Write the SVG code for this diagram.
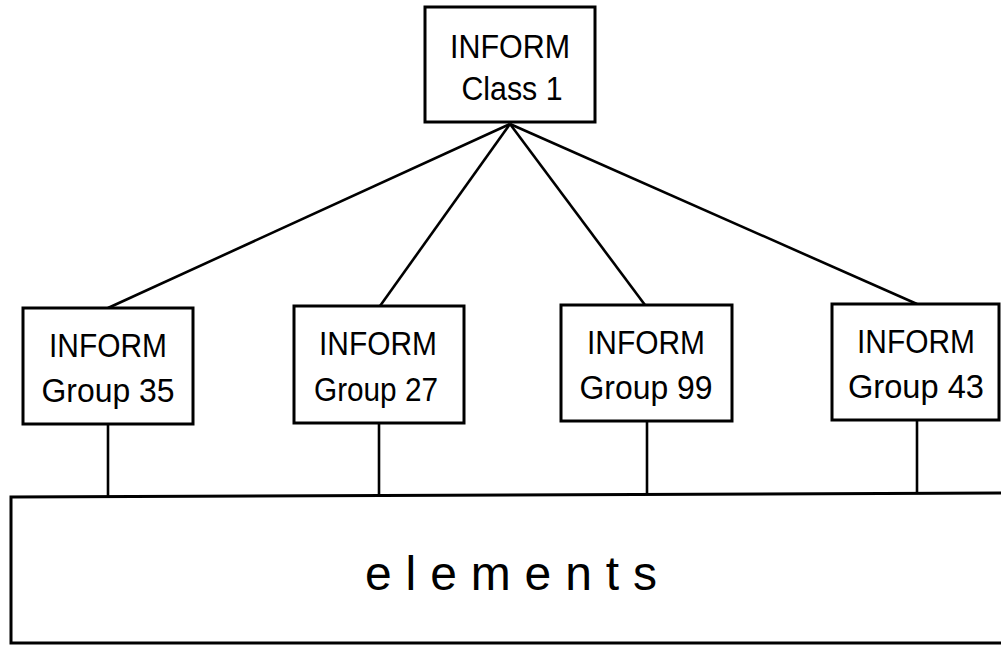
<svg xmlns="http://www.w3.org/2000/svg" width="1001" height="645" viewBox="0 0 1001 645">
<style>
.box{fill:#fff;stroke:#000;stroke-width:3}
.ln{stroke:#000;stroke-width:2.6;fill:none}
.t{font-family:"Liberation Sans",Arial,sans-serif;font-size:33px;fill:#000;text-anchor:middle}
.el{font-family:"Liberation Sans",Arial,sans-serif;font-size:48px;fill:#000}
</style>
<rect width="1001" height="645" fill="#fff"/>
<g id="connectors">
<line class="ln" x1="510" y1="124" x2="108" y2="308"/>
<line class="ln" x1="510" y1="124" x2="380" y2="306"/>
<line class="ln" x1="510" y1="124" x2="645" y2="305"/>
<line class="ln" x1="510" y1="124" x2="917" y2="304"/>
<line class="ln" x1="108" y1="424" x2="108" y2="497"/>
<line class="ln" x1="379" y1="423" x2="379" y2="496"/>
<line class="ln" x1="647" y1="421" x2="647" y2="494"/>
<line class="ln" x1="917" y1="420" x2="917" y2="494"/>
</g>
<g id="elements">
<path class="box" d="M1003,493 L11,497 L11,643 L1003,643"/>
<text class="el" x="365" y="590" textLength="292" lengthAdjust="spacing">elements</text>
</g>
<g id="class1">
<rect class="box" x="425" y="7" width="170" height="115"/>
<text class="t" x="510" y="58" textLength="120" lengthAdjust="spacingAndGlyphs">INFORM</text>
<text class="t" x="512" y="100" textLength="101" lengthAdjust="spacingAndGlyphs">Class 1</text>
</g>
<g id="group35">
<rect class="box" x="23" y="308" width="170" height="116"/>
<text class="t" x="108" y="357" textLength="118" lengthAdjust="spacingAndGlyphs">INFORM</text>
<text class="t" x="108" y="402" textLength="133" lengthAdjust="spacingAndGlyphs">Group 35</text>
</g>
<g id="group27">
<rect class="box" x="294" y="306" width="170" height="117"/>
<text class="t" x="378" y="355" textLength="118" lengthAdjust="spacingAndGlyphs">INFORM</text>
<text class="t" x="376" y="401" textLength="124" lengthAdjust="spacingAndGlyphs">Group 27</text>
</g>
<g id="group99">
<rect class="box" x="561" y="305" width="171" height="116"/>
<text class="t" x="646" y="354" textLength="118" lengthAdjust="spacingAndGlyphs">INFORM</text>
<text class="t" x="646" y="399" textLength="133" lengthAdjust="spacingAndGlyphs">Group 99</text>
</g>
<g id="group43">
<rect class="box" x="832" y="304" width="167" height="116"/>
<text class="t" x="916" y="353" textLength="118" lengthAdjust="spacingAndGlyphs">INFORM</text>
<text class="t" x="916" y="398" textLength="136" lengthAdjust="spacingAndGlyphs">Group 43</text>
</g>
</svg>
